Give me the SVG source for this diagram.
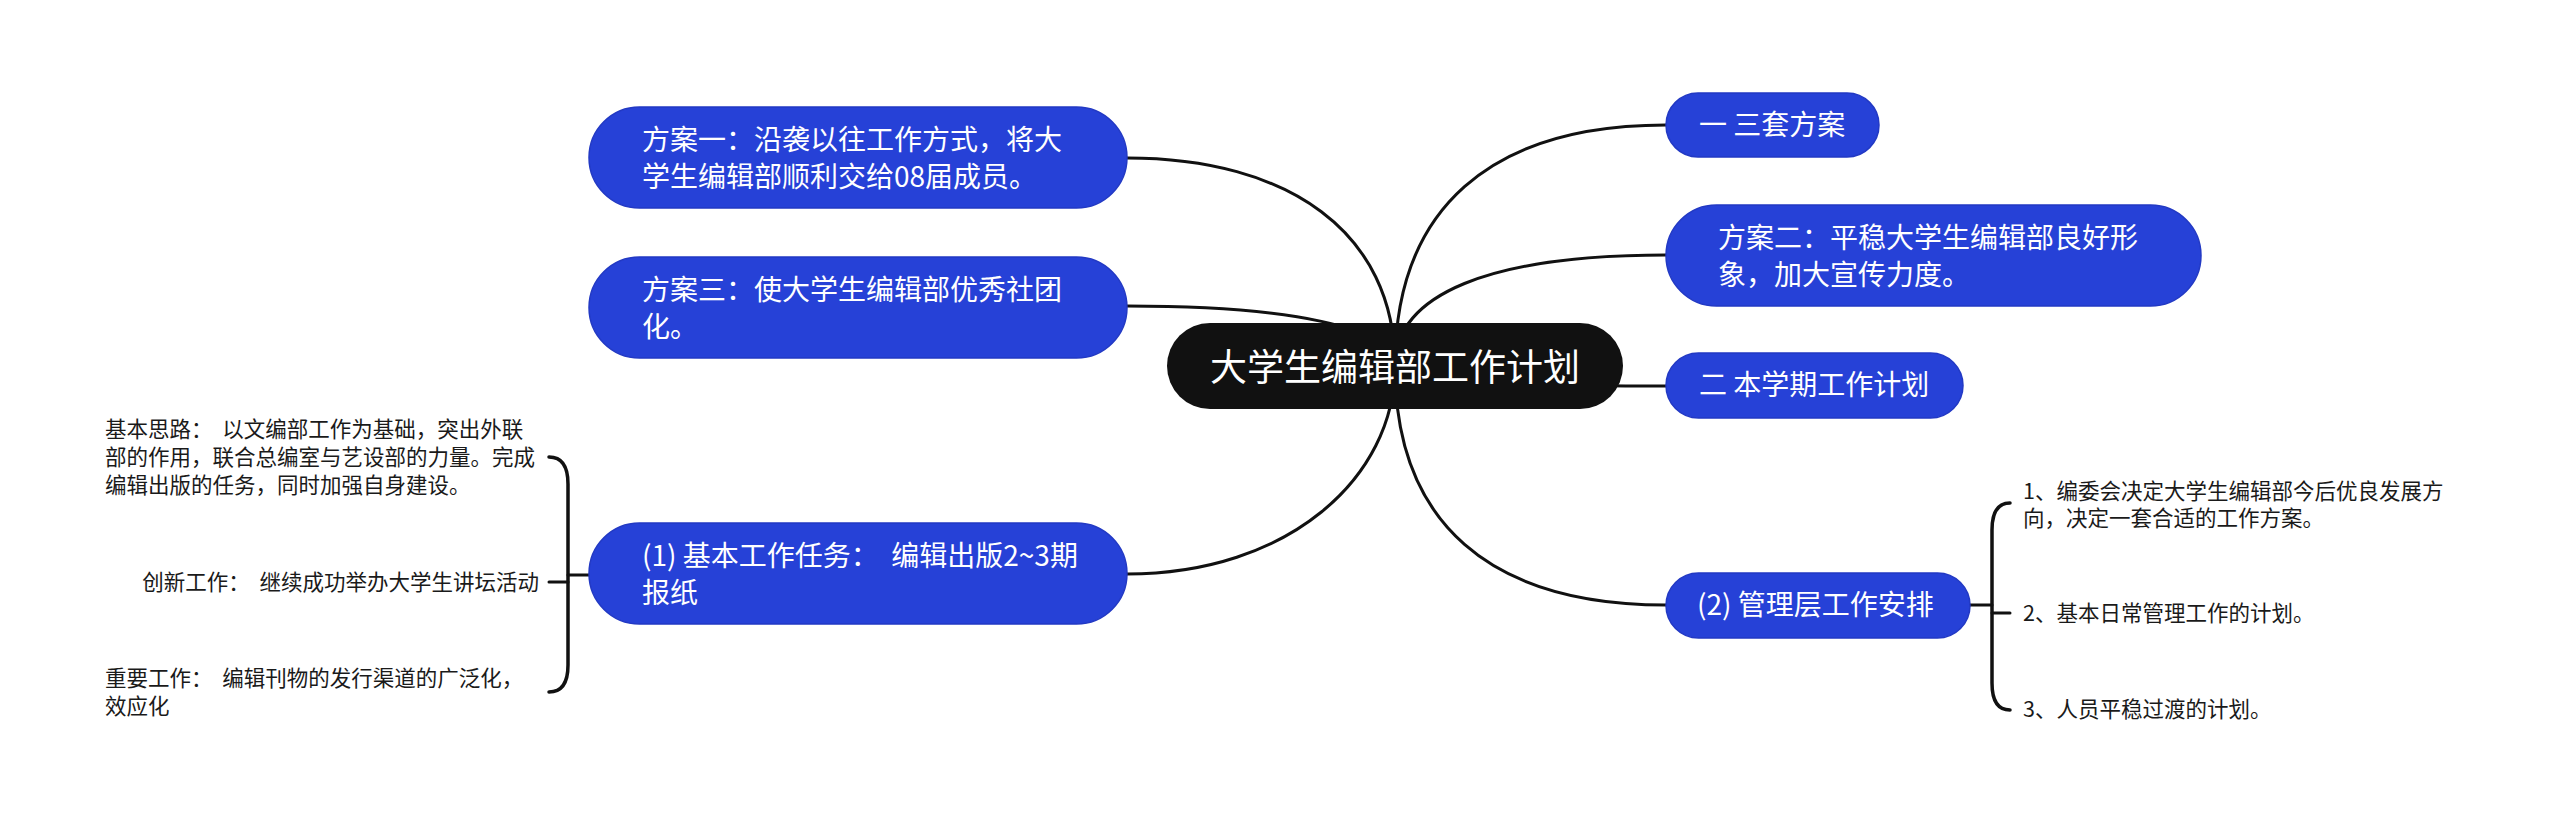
<svg xmlns="http://www.w3.org/2000/svg" width="2560" height="828" viewBox="0 0 2560 828">
<style>
.bg{fill:#ffffff}
.blue{fill:#2641d7;stroke:#2239c4;stroke-width:1.5}
.root{fill:#111111}
.conn{fill:none;stroke:#111111;stroke-width:3;stroke-linecap:round}
.brace{fill:none;stroke:#111111;stroke-width:3.5;stroke-linecap:round}
.t{font-family:"Noto Sans CJK SC","Noto Sans",sans-serif;white-space:pre}
.nt{font-size:28px;fill:#ffffff}
.rt{font-size:37px;fill:#ffffff}
.lt{font-size:21.5px;fill:#1a1a1a}
</style>
<rect class="bg" x="0" y="0" width="2560" height="828"/>
<g id="connectors">
<path class="conn" d="M1395 366 C1395 232,1288 158,1127 158"/>
<path class="conn" d="M1395 366 C1395 327,1288 306,1127 306"/>
<path class="conn" d="M1395 366 C1395 478,1288 574,1127 574"/>
<path class="conn" d="M1395 366 C1395 209,1490 125,1666 125"/>
<path class="conn" d="M1395 366 C1395 294,1490 255,1666 255"/>
<path class="conn" d="M1395 366 C1395 379,1490 386,1666 386"/>
<path class="conn" d="M1395 366 C1395 523,1490 605,1666 605"/>
<path class="brace" d="M549 457 C562 457,568 466,568 484 L568 665 C568 683,562 692,549 692"/>
<path class="conn" d="M549 582 L568 582"/>
<path class="conn" d="M568 575 L589 575"/>
<path class="brace" d="M2010 503 C1998 503,1992 512,1992 530 L1992 683 C1992 701,1998 710,2010 710"/>
<path class="conn" d="M1970 605 L1992 605"/>
<path class="conn" d="M1992 613 L2010 613"/>
</g>
<g id="root">
<rect class="root" x="1167" y="323" width="456" height="86" rx="43"/>
<text class="t rt" x="1395" y="381" text-anchor="middle">大学生编辑部工作计划</text>
</g>
<g id="node-fa1">
<rect class="blue" x="589" y="107" width="538" height="101" rx="50.5"/>
<text class="t nt" x="642" y="150">方案一：沿袭以往工作方式，将大</text>
<text class="t nt" x="642" y="187">学生编辑部顺利交给08届成员。</text>
</g>
<g id="node-fa3">
<rect class="blue" x="589" y="257" width="538" height="101" rx="50.5"/>
<text class="t nt" x="642" y="300">方案三：使大学生编辑部优秀社团</text>
<text class="t nt" x="642" y="337">化。</text>
</g>
<g id="node-task1">
<rect class="blue" x="589" y="523" width="538" height="101" rx="50.5"/>
<text class="t nt" x="642" y="566">(1) 基本工作任务：  编辑出版2~3期</text>
<text class="t nt" x="642" y="603">报纸</text>
</g>
<g id="node-three">
<rect class="blue" x="1666" y="93" width="213" height="64" rx="32"/>
<text class="t nt" x="1699" y="135">一 三套方案</text>
</g>
<g id="node-fa2">
<rect class="blue" x="1666" y="205" width="535" height="101" rx="50.5"/>
<text class="t nt" x="1718" y="248">方案二：平稳大学生编辑部良好形</text>
<text class="t nt" x="1718" y="285">象，加大宣传力度。</text>
</g>
<g id="node-term">
<rect class="blue" x="1666" y="353" width="297" height="65" rx="32.5"/>
<text class="t nt" x="1699" y="395">二 本学期工作计划</text>
</g>
<g id="node-task2">
<rect class="blue" x="1666" y="573" width="304" height="65" rx="32.5"/>
<text class="t nt" x="1697" y="615">(2) 管理层工作安排</text>
</g>
<g id="leaf-basic">
<text class="t lt" x="105" y="437">基本思路：  以文编部工作为基础，突出外联</text>
<text class="t lt" x="105" y="465">部的作用，联合总编室与艺设部的力量。完成</text>
<text class="t lt" x="105" y="493">编辑出版的任务，同时加强自身建设。</text>
</g>
<g id="leaf-innov">
<text class="t lt" x="539" y="590" text-anchor="end">创新工作：  继续成功举办大学生讲坛活动</text>
</g>
<g id="leaf-important">
<text class="t lt" x="105" y="686">重要工作：  编辑刊物的发行渠道的广泛化，</text>
<text class="t lt" x="105" y="714">效应化</text>
</g>
<g id="leaf-m1">
<text class="t lt" x="2023" y="499">1、编委会决定大学生编辑部今后优良发展方</text>
<text class="t lt" x="2023" y="526">向，决定一套合适的工作方案。</text>
</g>
<g id="leaf-m2">
<text class="t lt" x="2023" y="621">2、基本日常管理工作的计划。</text>
</g>
<g id="leaf-m3">
<text class="t lt" x="2023" y="717">3、人员平稳过渡的计划。</text>
</g>
</svg>
